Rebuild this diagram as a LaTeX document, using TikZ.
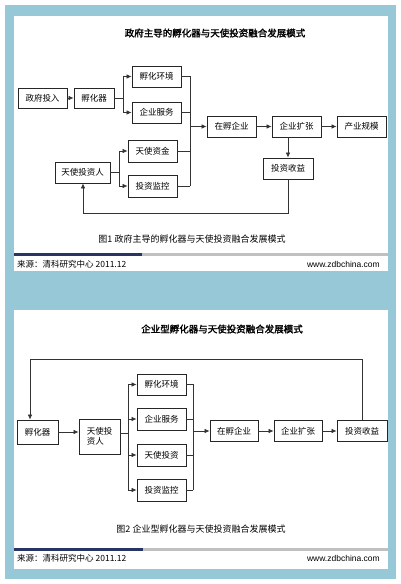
\documentclass[tikz,border=0pt]{standalone}
\usepackage{fontspec}
\setmainfont{Noto Sans CJK SC}[AutoFakeBold=2]
\newfontfamily\lat{Liberation Sans}
\usetikzlibrary{arrows.meta}
\definecolor{bgblue}{RGB}{150,200,215}
\definecolor{navy}{RGB}{40,52,100}
\definecolor{bargray}{RGB}{192,192,192}
\tikzset{
  box/.style={draw=black!85, line width=0.8pt, fill=white, inner sep=0pt,
    font=\fontsize{8.5}{10}\selectfont, minimum width=49pt, minimum height=21pt},
  conn/.style={draw=black!80, line width=0.7pt},
  arr/.style={conn, -{Latex[length=5pt,width=4.5pt]}},
  ttl/.style={font=\bfseries\fontsize{9.5}{11}\selectfont},
  captext/.style={font=\fontsize{9}{11}\selectfont},
  foot/.style={font=\fontsize{8.5}{10}\selectfont, inner sep=0pt},
}
\begin{document}
\begin{tikzpicture}[x=1pt,y=-1pt]
\useasboundingbox (0,0) rectangle (400,584);
% backgrounds
\fill[bgblue] (5,5) rectangle (396,579);
\fill[white] (14,16) rectangle (388,271);
\fill[white] (14,310) rectangle (388,569);
\fill[navy] (14,253) rectangle (142,256);
\fill[bargray] (142,253) rectangle (388,256);
\fill[navy] (14,548) rectangle (143,551);
\fill[bargray] (143,548) rectangle (388,551);

% ---------- Diagram 1 ----------
\node[ttl] (t1) at (215,33) {政府主导的孵化器与天使投资融合发展模式};
\node[box, minimum height=20pt] (gov) at (42.5,98) {政府投入};
\node[box, minimum width=40pt, minimum height=20pt] (inc) at (94,98) {孵化器};
\node[box] (env) at (156.5,76.5) {孵化环境};
\node[box] (svc) at (156.5,112.5) {企业服务};
\node[box, minimum height=22pt] (ang) at (152.5,151) {天使资金};
\node[box, minimum height=22pt] (mon) at (152.5,186) {投资监控};
\node[box, minimum width=55pt] (inv) at (82.5,172.5) {天使投资人};
\node[box] (hatch) at (231.5,126.5) {在孵企业};
\node[box] (exp) at (296.5,126.5) {企业扩张};
\node[box] (ind) at (361.5,126.5) {产业规模};
\node[box, minimum width=50pt] (ret) at (288,168.5) {投资收益};

\draw[arr] (gov) -- (inc);
\coordinate (s1) at (123,98);
\draw[conn] (inc.east) -- (s1);
\draw[conn] (s1 |- env) -- (s1 |- svc);
\draw[arr] (s1 |- env) -- (env.west);
\draw[arr] (s1 |- svc) -- (svc.west);
\coordinate (s2) at (119,172.5);
\draw[conn] (inv.east) -- (s2);
\draw[conn] (s2 |- ang) -- (s2 |- mon);
\draw[arr] (s2 |- ang) -- (ang.west);
\draw[arr] (s2 |- mon) -- (mon.west);
\coordinate (m1) at (190,126.5);
\draw[conn] (env.east) -- (env.east -| m1) -- (mon.east -| m1);
\draw[conn] (svc.east) -- (svc.east -| m1);
\draw[conn] (ang.east) -- (ang.east -| m1);
\draw[conn] (mon.east) -- (mon.east -| m1);
\draw[arr] (m1) -- (hatch.west);
\draw[arr] (hatch) -- (exp);
\draw[arr] (exp) -- (ind);
\draw[arr] (ret.north |- exp.south) -- (ret.north);
\coordinate (fb1) at (83,213);
\draw[arr] (ret.south) |- (fb1) -- (fb1 |- inv.south);

\node[captext] (c1) at (192,239) {图1 政府主导的孵化器与天使投资融合发展模式};
\node[foot, anchor=west] (src1) at (17,264) {来源：清科研究中心 2011.12};
\node[foot, anchor=east] (web1) at (380,264) {\lat www.zdbchina.com};

% ---------- Diagram 2 ----------
\node[ttl] (t2) at (222,329) {企业型孵化器与天使投资融合发展模式};
\node[box, minimum width=41pt, minimum height=24pt] (inc2) at (37.5,432) {孵化器};
\node[box, minimum width=41pt, minimum height=35pt, align=left] (inv2) at (99.5,436.5) {天使投\\资人};
\node[box] (env2) at (161.5,384.5) {孵化环境};
\node[box, minimum height=22pt] (svc2) at (161.5,419) {企业服务};
\node[box, minimum height=22pt] (ang2) at (161.5,455) {天使投资};
\node[box, minimum height=22pt] (mon2) at (161.5,490) {投资监控};
\node[box, minimum width=48pt] (hatch2) at (234,431) {在孵企业};
\node[box, minimum width=48pt] (exp2) at (298,431) {企业扩张};
\node[box, minimum width=50pt] (ret2) at (362,431) {投资收益};

\draw[arr] (inc2.east) -- (inc2.east -| inv2.west);
\coordinate (s3) at (128,433);
\draw[conn] (inv2.east |- s3) -- (s3);
\draw[conn] (s3 |- env2) -- (s3 |- mon2);
\draw[arr] (s3 |- env2) -- (env2.west);
\draw[arr] (s3 |- svc2) -- (svc2.west);
\draw[arr] (s3 |- ang2) -- (ang2.west);
\draw[arr] (s3 |- mon2) -- (mon2.west);
\coordinate (m2) at (193,431);
\draw[conn] (env2.east) -- (env2.east -| m2) -- (mon2.east -| m2);
\draw[conn] (svc2.east) -- (svc2.east -| m2);
\draw[conn] (ang2.east) -- (ang2.east -| m2);
\draw[conn] (mon2.east) -- (mon2.east -| m2);
\draw[arr] (m2) -- (hatch2.west);
\draw[arr] (hatch2) -- (exp2);
\draw[arr] (exp2) -- (ret2);
\coordinate (top2) at (30,359);
\draw[arr] (ret2.north) -- (ret2.north |- top2) -- (top2) -- (top2 |- inc2.north);

\node[captext] (c2) at (201,529) {图2 企业型孵化器与天使投资融合发展模式};
\node[foot, anchor=west] (src2) at (17,558) {来源：清科研究中心 2011.12};
\node[foot, anchor=east] (web2) at (380,558) {\lat www.zdbchina.com};
\end{tikzpicture}
\end{document}
